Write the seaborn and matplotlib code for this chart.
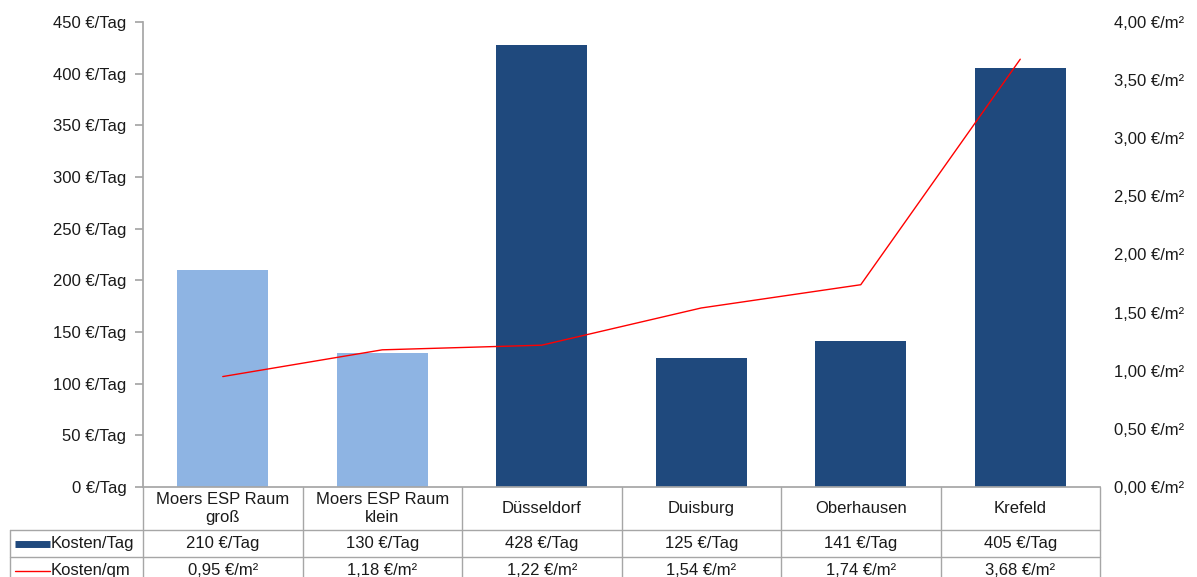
import matplotlib.pyplot as plt
import matplotlib.transforms as mtransforms
import seaborn as sns
import pandas as pd

# data
categories = ['Moers ESP Raum\ngroß', 'Moers ESP Raum\nklein', 'Düsseldorf',
              'Duisburg', 'Oberhausen', 'Krefeld']
kosten_tag = [210, 130, 428, 125, 141, 405]
kosten_qm = [0.95, 1.18, 1.22, 1.54, 1.74, 3.68]
bar_colors = ['#8EB4E3', '#8EB4E3', '#1F497D', '#1F497D', '#1F497D', '#1F497D']

tag_labels = [f"{v} €/Tag" for v in kosten_tag]
qm_labels = [f"{v:.2f} €/m²".replace('.', ',') for v in kosten_qm]

sns.set_theme(style="white")
plt.rcParams['font.family'] = ['Liberation Sans', 'DejaVu Sans']
FS = 12
TXT = '#1A1A1A'
GRID = '#A6A6A6'

fig = plt.figure(figsize=(11.97, 5.77), dpi=100)
W, H = 1197, 577
ax = fig.add_axes([143 / W, (H - 487) / H, (1100 - 143) / W, (487 - 22) / H])

df = pd.DataFrame({'cat': range(len(categories)), 'val': kosten_tag})
sns.barplot(data=df, x='cat', y='val', hue='cat', palette=bar_colors,
            legend=False, width=0.57, saturation=1, linewidth=0, ax=ax)
ax.set_ylim(0, 450)
ax.set_xlim(-0.5, len(categories) - 0.5)
ax.set_yticks(range(0, 451, 50))
ax.set_yticklabels([f"{v} €/Tag" for v in range(0, 451, 50)], fontsize=FS, color=TXT)
ax.set_xticks([])
ax.set_xlabel('')
ax.set_ylabel('')
for s in ['top', 'right']:
    ax.spines[s].set_visible(False)
ax.spines['left'].set_color(GRID)
ax.spines['bottom'].set_color(GRID)
ax.tick_params(axis='y', left=True, length=6, color=GRID, pad=6)

ax2 = ax.twinx()
sns.lineplot(x=list(range(len(categories))), y=kosten_qm, color='#FF0000',
             linewidth=1.0, ax=ax2)
ax2.set_ylim(0, 4)
ax2.set_yticks([i * 0.5 for i in range(9)])
ax2.set_yticklabels([f"{i * 0.5:.2f} €/m²".replace('.', ',') for i in range(9)],
                    fontsize=FS, color=TXT)
ax2.tick_params(axis='y', right=False, pad=4)
for s in ax2.spines.values():
    s.set_visible(False)

# data table below the plot
tr = mtransforms.blended_transform_factory(ax.transData, ax.transAxes)
ah = 465.0
y_head = -43 / ah
y_r1 = -70 / ah
y_r2 = -97 / ah
n = len(categories)
for i in range(n + 1):
    ax.plot([i - 0.5, i - 0.5], [0, y_r2], transform=tr, color=GRID, lw=1, clip_on=False)
xl = -0.5 - 133 / 159.5
ax.plot([xl, n - 0.5], [y_head, y_head], transform=tr, color=GRID, lw=1, clip_on=False)
ax.plot([xl, n - 0.5], [y_r1, y_r1], transform=tr, color=GRID, lw=1, clip_on=False)
ax.plot([xl, xl], [y_head, y_r2], transform=tr, color=GRID, lw=1, clip_on=False)

for i in range(n):
    ax.text(i, y_head / 2, categories[i], transform=tr, ha='center', va='center',
            fontsize=FS, color=TXT, linespacing=1.3)
    ax.text(i, (y_head + y_r1) / 2, tag_labels[i], transform=tr, ha='center',
            va='center', fontsize=FS, color=TXT)
    ax.text(i, (y_r1 + y_r2) / 2, qm_labels[i], transform=tr, ha='center',
            va='center', fontsize=FS, color=TXT)

# legend keys in the table
kx0 = xl + 5 / 159.5
kx1 = xl + 40 / 159.5
ym1 = (y_head + y_r1) / 2
ym2 = (y_r1 + y_r2) / 2
ax.plot([kx0, kx1], [ym1, ym1], transform=tr, color='#1F497D', lw=5,
        solid_capstyle='butt', clip_on=False)
ax.text(kx1 + 1 / 159.5, ym1, 'Kosten/Tag', transform=tr, ha='left', va='center',
        fontsize=FS, color=TXT)
ax.plot([kx0, kx1], [ym2, ym2], transform=tr, color='#FF0000', lw=1, clip_on=False)
ax.text(kx1 + 1 / 159.5, ym2, 'Kosten/qm', transform=tr, ha='left', va='center',
        fontsize=FS, color=TXT)

fig.savefig('out.png', dpi=100)
